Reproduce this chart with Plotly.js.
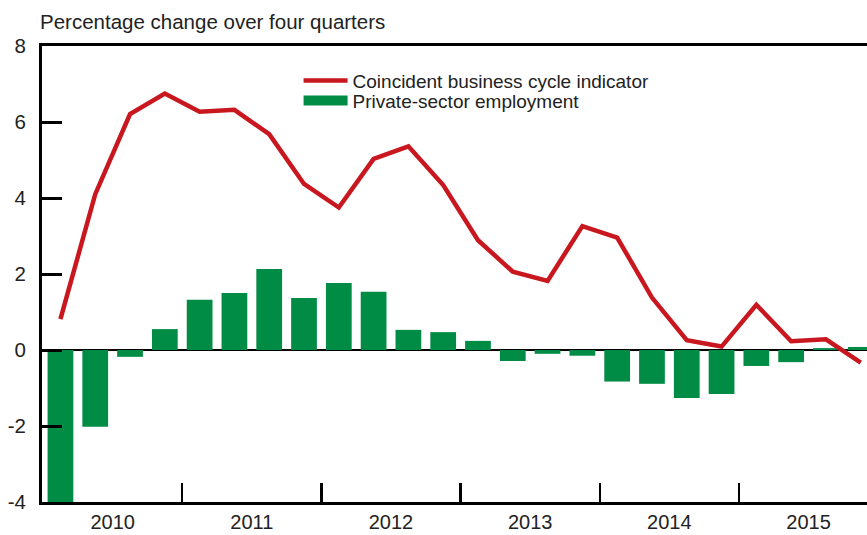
<!DOCTYPE html>
<html>
<head>
<meta charset="utf-8">
<script src="https://cdn.plot.ly/plotly-3.0.1.min.js"></script>
<style>html,body{margin:0;padding:0;background:#fff}#chart{width:867px;height:535px}</style>
</head>
<body>
<div id="chart"></div>
<script>
// Quarters 2010Q1 .. 2015Q4, indexed 0..23
const quarters = ["2010Q1","2010Q2","2010Q3","2010Q4","2011Q1","2011Q2","2011Q3","2011Q4",
  "2012Q1","2012Q2","2012Q3","2012Q4","2013Q1","2013Q2","2013Q3","2013Q4",
  "2014Q1","2014Q2","2014Q3","2014Q4","2015Q1","2015Q2","2015Q3","2015Q4"];
const employment = [-4.0,-2.02,-0.18,0.55,1.32,1.5,2.13,1.37,1.76,1.53,0.53,0.47,
  0.24,-0.29,-0.1,-0.15,-0.83,-0.89,-1.26,-1.16,-0.42,-0.32,0.05,0.08];
const coincident = [0.81,4.1,6.21,6.75,6.27,6.32,5.68,4.37,3.75,5.03,5.36,4.34,
  2.89,2.06,1.82,3.26,2.96,1.38,0.26,0.09,1.19,0.23,0.28,-0.33];
const years = ["2010","2011","2012","2013","2014","2015"];
const yTicks = [-4,-2,0,2,4,6,8];
const yTickText = ["-4","-2","0","2","4","6","8"];

const xIdx = quarters.map((q,i)=>i);
const yearCenters = years.map((y,i)=>i*4+1.5);
const yearBounds = years.slice(1).map((y,i)=>i*4+3.5);

const fam = "Liberation Sans, Arial, sans-serif";
const txt = "#222";
const green = "#008c45", red = "#c8171e";

const traces = [
  {type:"bar", x:xIdx, y:employment, name:"Private-sector employment", showlegend:false,
   marker:{color:green, line:{width:0}}, hoverinfo:"skip"},
  {type:"scatter", mode:"lines", x:xIdx, y:coincident, name:"Coincident business cycle indicator",
   line:{color:red, width:4.5}, legend:"legend"},
  // legend-only entry for the bar series (wide rectangle swatch)
  {type:"scatter", mode:"lines", x:[null], y:[null], name:"Private-sector employment",
   line:{color:green, width:11}, legend:"legend2", hoverinfo:"skip"},
  {type:"scatter", mode:"lines", x:[0], y:[0], xaxis:"x2", showlegend:false, hoverinfo:"skip",
   line:{width:0}}
];

const legendCommon = {xanchor:"left", yanchor:"middle", bgcolor:"rgba(0,0,0,0)",
  font:{size:19, color:txt, family:fam}, itemwidth:44};

const layout = {
  width:867, height:535,
  margin:{l:42, r:0, t:46, b:33},
  paper_bgcolor:"#fff", plot_bgcolor:"#fff",
  font:{family:fam, color:txt},
  showlegend:true,
  bargap:0.26,
  legend:Object.assign({x:0.311, y:0.924}, legendCommon),
  legend2:Object.assign({x:0.311, y:0.880}, legendCommon),
  xaxis:{range:[-0.53,23.18], tickmode:"array", tickvals:yearCenters, ticktext:years,
         ticks:"", showgrid:false, zeroline:false, showline:true, linecolor:"#000",
         linewidth:3, mirror:true, tickfont:{size:20, color:txt}, ticklabelstandoff:0,
         fixedrange:true},
  xaxis2:{overlaying:"x", range:[-0.53,23.18], tickmode:"array", tickvals:yearBounds,
          ticks:"inside", ticklen:19, tickwidth:2.5, tickcolor:"#000", showticklabels:false,
          showgrid:false, zeroline:false, showline:false, side:"bottom", fixedrange:true},
  yaxis:{range:[-4,8], tickmode:"array", tickvals:yTicks, ticktext:yTickText, ticks:"inside",
         ticklen:20, tickwidth:3, tickcolor:"#000", showgrid:false, zeroline:true,
         zerolinecolor:"#000", zerolinewidth:1.2, showline:true, linecolor:"#000", linewidth:3,
         tickfont:{size:20.5, color:txt}, ticklabelstandoff:9, fixedrange:true},
  annotations:[{text:"Percentage change over four quarters", xref:"paper", yref:"paper",
    x:-0.005, y:1.0, yshift:11, xanchor:"left", yanchor:"bottom", showarrow:false,
    font:{size:20.5, color:txt}}]
};

Plotly.newPlot("chart", traces, layout, {displayModeBar:false, staticPlot:true});
</script>
</body>
</html>
